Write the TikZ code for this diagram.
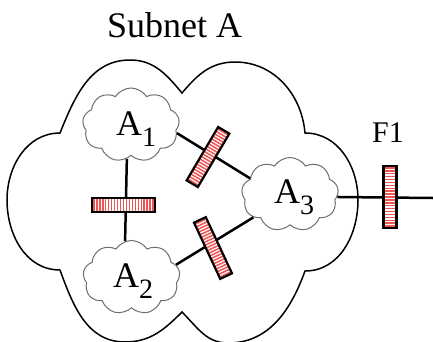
\documentclass[tikz,border=0pt]{standalone}
\usepackage{fontspec}
\setmainfont{Liberation Serif}
\usetikzlibrary{shapes.symbols,calc}
\definecolor{barred}{RGB}{240,85,85}
\definecolor{cloudgray}{RGB}{110,110,110}
\tikzset{
  bigcloud/.style={draw=black, line width=1.5pt},
  smallcloud/.style={cloud, cloud puffs=9, cloud puff arc=115, aspect=1.3,
    draw=cloudgray, line width=1pt, minimum width=97pt, minimum height=74pt,
    inner sep=0pt},
  conn/.style={line width=2.5pt, black},
  barrier/.style={rectangle, fill=white, draw=none, minimum width=62pt,
    minimum height=13pt, inner sep=0pt, outer sep=0pt},
  stripe/.style={barred, line width=1.5pt},
  barline/.style={draw=black, line width=2.2pt, line join=miter},
  lbl/.style={inner sep=0pt, anchor=base west},
}
\newcommand\barstripes[1]{%
  \foreach \t in {0.03,0.077,...,0.99}{%
    \draw[stripe] ($(#1.south west)!\t!(#1.south east)$) -- ($(#1.north west)!\t!(#1.north east)$);}%
  \draw[barline] (#1.south west) -- (#1.south east) -- (#1.north east) -- (#1.north west) -- cycle;}
\begin{document}
\begin{tikzpicture}[x=1pt,y=1pt]
\useasboundingbox (0,0) rectangle (433,341);
% big cloud (Subnet A)
\draw[bigcloud] (60,71) to[out=180,in=-90] (7,141) to[out=90,in=180] (60,208)
  to[out=68,in=180] (130,281) to[out=0,in=130] (182,248)
  to[out=50,in=180] (235,279) to[out=0,in=95] (305,208)
  to[out=0,in=90] (358,141) to[out=-90,in=0] (305,70)
  to[out=-110,in=0] (228,-2) to[out=180,in=-45] (182,29)
  to[out=-135,in=0] (125,-1) to[out=180,in=-70] (60,71);
\node[lbl, font=\fontsize{36}{36}\selectfont] (title) at (107,304) {Subnet A};
% small clouds
\node[smallcloud] (A1) at (131,216) {};
\node[smallcloud] (A2) at (131.5,63.5) {};
\node[smallcloud, shape border rotate=20] (A3) at (290,146.5) {};
\node[lbl, font=\fontsize{36}{36}\selectfont] (A1l) at (116,206) {A\raisebox{-11pt}{\fontsize{28}{28}\selectfont 1}};
\node[lbl, font=\fontsize{36}{36}\selectfont] (A2l) at (113,54) {A\raisebox{-11pt}{\fontsize{28}{28}\selectfont 2}};
\node[lbl, font=\fontsize{36}{36}\selectfont] (A3l) at (274,138) {A\raisebox{-11pt}{\fontsize{28}{28}\selectfont 3}};
\node[lbl, font=\fontsize{30}{30}\selectfont] (F1l) at (372,199) {F1};
% connectors
\coordinate (out) at (433,143);
\draw[conn] (A1.263) -- (A2.100);
\draw[conn] (A1.-10) -- (A3.158);
\draw[conn] (A2.16) -- (A3.212);
\draw[conn] (A3.-3) -- (out);
% barriers
\node[barrier, minimum width=63pt, minimum height=14pt] (b1) at (123.5,136) {};
\barstripes{b1}
\node[barrier, rotate=59.5] (b2) at (208,184) {};
\barstripes{b2}
\node[barrier, rotate=-65] (b3) at (213,93) {};
\barstripes{b3}
\node[barrier, rotate=90] (b4) at (390,144) {};
\barstripes{b4}
\end{tikzpicture}
\end{document}
